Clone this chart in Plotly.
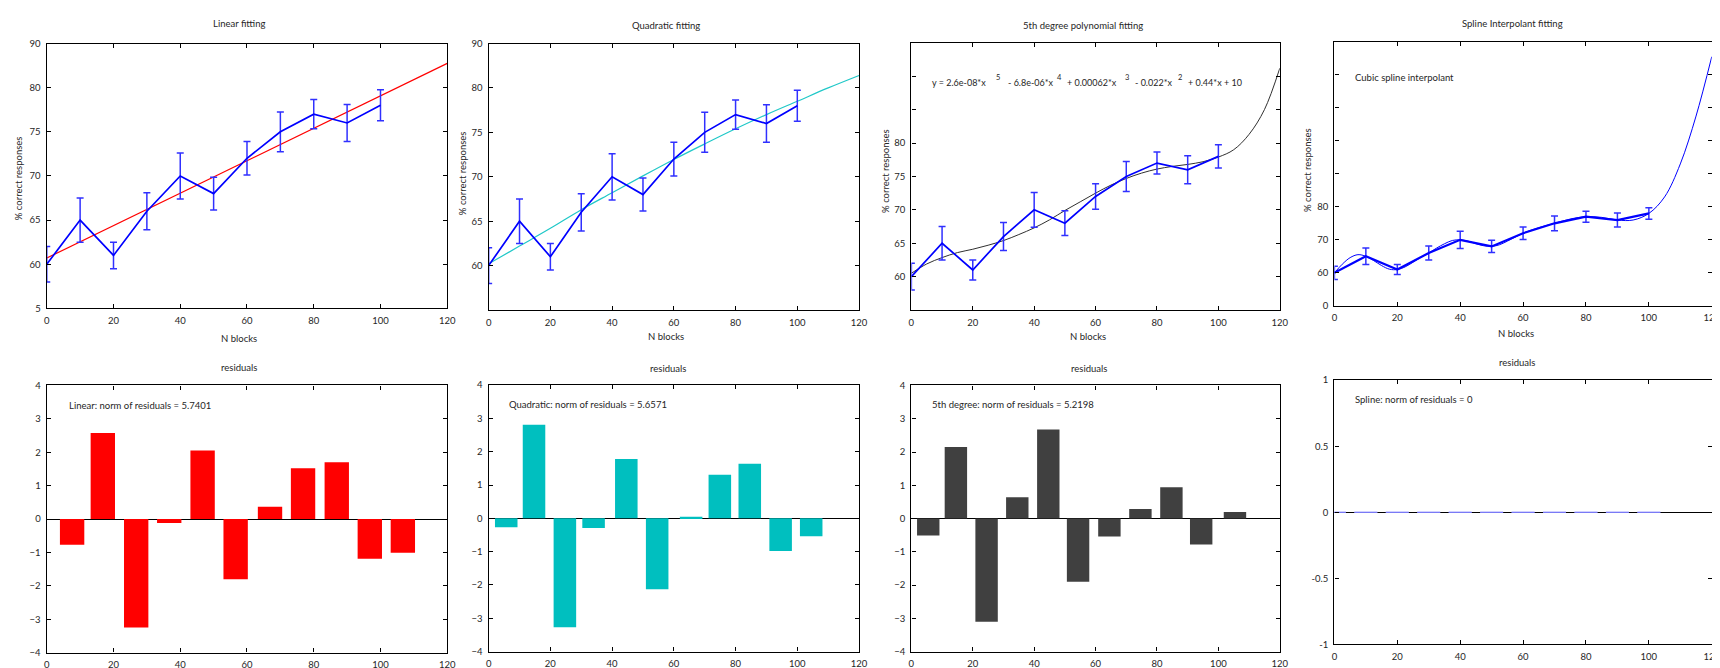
import plotly.graph_objects as go

W, H = 1720, 668

# ---------------- data ----------------
n_blocks = [0, 10, 20, 30, 40, 50, 60, 70, 80, 90, 100]
pct_correct = [60, 65, 61, 66, 70, 68, 72, 75, 77, 76, 78]
pct_err = [2.0, 2.5, 1.5, 2.1, 2.6, 1.85, 1.9, 2.25, 1.65, 2.1, 1.75]

lin_fit_x = [0, 120]
lin_fit_y = [60.7, 82.75]

quad_fit_x = [0, 10, 20, 30, 40, 50, 60, 70, 80, 90, 100, 110, 120]
quad_fit_y = [60.2, 62.2, 64.2, 66.3, 68.2, 70.1, 71.95, 73.7, 75.4, 77.0, 78.5, 80.0, 81.4]

poly5_fit_x = [0, 5, 10, 15, 20, 25, 30, 35, 40, 45, 50, 55, 60, 65, 70, 75, 80, 85,
               90, 95, 100, 105, 110, 115, 120]
poly5_fit_y = [60.5, 61.9, 62.85, 63.6, 64.1, 64.7, 65.4, 66.3, 67.3, 68.5, 69.9, 71.2,
               72.5, 73.7, 74.7, 75.5, 76.1, 76.5, 76.8, 77.2, 77.9, 79.0, 81.3, 85.0, 91.2]

spline_fit_x = [0, 2.5, 5, 7.5, 10, 12.5, 15, 17.5, 20, 22.5, 25, 27.5, 30, 32.5, 35, 37.5,
                40, 42.5, 45, 47.5, 50, 52.5, 55, 57.5, 60, 65, 70, 75, 80, 85, 90, 95,
                100, 105, 110, 115, 120]
spline_fit_y = [60, 62.6, 64.6, 65.5, 65, 63.7, 62.2, 61.1, 61, 61.8, 63.2, 64.7, 66, 67.5,
                68.8, 69.8, 70, 69.6, 68.8, 68.2, 68, 68.5, 69.6, 70.8, 72, 73.7, 75, 76.3,
                77, 76.8, 76, 76.0, 78, 83, 93, 107.5, 125.5]

lin_resid_x = [7.6, 16.8, 26.8, 36.7, 46.7, 56.6, 66.9, 76.8, 86.9, 96.8, 106.7]
lin_resid = [-0.77, 2.58, -3.25, -0.12, 2.05, -1.80, 0.37, 1.52, 1.70, -1.19, -1.01]

quad_resid_x = [5.7, 14.7, 24.7, 34.0, 44.6, 54.6, 65.6, 74.9, 84.6, 94.6, 104.5]
quad_resid = [-0.27, 2.81, -3.27, -0.29, 1.78, -2.13, 0.05, 1.31, 1.64, -0.98, -0.54]

poly5_resid_x = [5.5, 14.5, 24.5, 34.5, 44.6, 54.3, 64.5, 74.6, 84.7, 94.4, 105.4]
poly5_resid = [-0.51, 2.15, -3.10, 0.64, 2.68, -1.90, -0.54, 0.29, 0.94, -0.78, 0.20]

spline_resid_x = [0, 10, 20, 30, 40, 50, 60, 70, 80, 90, 100]
spline_resid = [0, 0, 0, 0, 0, 0, 0, 0, 0, 0, 0]

x_ticks = [0, 20, 40, 60, 80, 100, 120]
lin_yticks = [55, 60, 65, 70, 75, 80, 85]
lin_yticktext = ["5", "60", "65", "70", "75", "80", "90"]
quad_yticktext = ["", "60", "65", "70", "75", "80", "90"]
poly5_yticks = [60, 65, 70, 75, 80, 85, 90]
poly5_yticktext = ["60", "65", "70", "75", "80", "", ""]
spline_yticks = [50, 60, 70, 80, 90, 100, 110, 120]
spline_yticktext = ["0", "60", "70", "80", "", "", "", ""]
resid_yticks = [-4, -3, -2, -1, 0, 1, 2, 3, 4]
spline_resid_yticks = [-1, -0.5, 0, 0.5, 1]
spline_resid_yticktext = ["-1", "-0.5", "0", "0.5", "1"]

# ---------------- styling ----------------
FONT = "Lato, 'Liberation Sans', sans-serif"
FS = 9.5
TXT = "#262626"
BLUE = "#0000FF"
RED = "#FF0000"
CYAN = "#00BFBF"
DARK = "#404040"


def fx(px):
    return px / W


def fy(py):
    return 1 - py / H


def base_axis():
    return dict(showline=True, linecolor="black", linewidth=1.4, mirror="ticks",
                ticks="inside", ticklen=4, tickwidth=1, tickcolor="black",
                showgrid=False, zeroline=False, ticklabelstandoff=3,
                ticklabeloverflow="allow",
                tickfont=dict(family=FONT, size=FS, color=TXT))


# panel pixel boxes: (left, right, top, bottom)
boxes = {
    1: (36, 439.3, 30, 299.3),
    2: (481, 854, 30, 301),
    3: (906.7, 1277.7, 29.3, 301),
    4: (1332.7, 1712.7, 28.3, 296.7),
    5: (36, 439.3, 377.7, 649.3),
    6: (481, 854, 377.3, 648.3),
    7: (906.7, 1277.7, 377.7, 648.3),
    8: (1332.7, 1712.7, 372.3, 641),
}

fig = go.Figure()
layout = dict(width=W, height=H, margin=dict(l=0, r=0, t=0, b=0),
              paper_bgcolor="white", plot_bgcolor="white", showlegend=False,
              font=dict(family=FONT, size=FS, color=TXT))

for i, (l, r, t, b) in boxes.items():
    xa = base_axis()
    xa.update(domain=[fx(l), fx(r)], anchor=f"y{i}", range=[0, 120], tickvals=x_ticks)
    ya = base_axis()
    ya.update(domain=[fy(b), fy(t)], anchor=f"x{i}")
    if i in (1, 2):
        ya.update(range=[55, 85], tickvals=lin_yticks,
                  ticktext=lin_yticktext if i == 1 else quad_yticktext)
    elif i == 3:
        ya.update(range=[55, 95], tickvals=poly5_yticks, ticktext=poly5_yticktext)
    elif i == 4:
        ya.update(range=[50, 130], tickvals=spline_yticks, ticktext=spline_yticktext)
    elif i in (5, 6, 7):
        ya.update(range=[-4, 4], tickvals=resid_yticks, zeroline=True,
                  zerolinecolor="black", zerolinewidth=1.2)
    else:
        ya.update(range=[-1, 1], tickvals=spline_resid_yticks,
                  ticktext=spline_resid_yticktext, zeroline=True,
                  zerolinecolor="black", zerolinewidth=1.2)
    layout["xaxis" if i == 1 else f"xaxis{i}"] = xa
    layout["yaxis" if i == 1 else f"yaxis{i}"] = ya


def ax(i):
    return ("x" if i == 1 else f"x{i}"), ("y" if i == 1 else f"y{i}")


def data_trace(i, width=1.7):
    xr, yr = ax(i)
    return go.Scatter(x=n_blocks, y=pct_correct, mode="lines", xaxis=xr, yaxis=yr,
                      line=dict(color=BLUE, width=width),
                      error_y=dict(type="data", array=pct_err, visible=True,
                                   color="#3030ff", thickness=1.5, width=3.5))


# top row fits
for i, (fxs, fys, col, w) in {
    1: (lin_fit_x, lin_fit_y, RED, 1.2),
    2: (quad_fit_x, quad_fit_y, "#20C8C8", 1.2),
    3: (poly5_fit_x, poly5_fit_y, "#303030", 1.0),
    4: (spline_fit_x, spline_fit_y, BLUE, 1.0),
}.items():
    xr, yr = ax(i)
    if i == 4:
        fig.add_trace(data_trace(i, width=2.2))
    fig.add_trace(go.Scatter(x=fxs, y=fys, mode="lines", xaxis=xr, yaxis=yr,
                             line=dict(color=col, width=w, shape="spline")))
    if i != 4:
        fig.add_trace(data_trace(i))

# residual bars
for i, (bx, by, col) in {
    5: (lin_resid_x, lin_resid, RED),
    6: (quad_resid_x, quad_resid, CYAN),
    7: (poly5_resid_x, poly5_resid, DARK),
    8: (spline_resid_x, spline_resid, "#8080ff"),
}.items():
    xr, yr = ax(i)
    fig.add_trace(go.Bar(x=bx, y=by, xaxis=xr, yaxis=yr, width=7.3,
                         marker=dict(color=col, line=dict(width=1 if i == 8 else 0, color=col))))

# ---------------- text ----------------
ann = []


def add_text(text, px, py, size=FS, xanchor="center", angle=0):
    ann.append(dict(text=text, x=fx(px), y=fy(py), xref="paper", yref="paper",
                    xanchor=xanchor, yanchor="middle", showarrow=False, textangle=angle,
                    font=dict(family=FONT, size=size, color=TXT)))


for t, px, py in [("Linear fitting", 230, 10), ("Quadratic fitting", 660, 12),
                  ("5th degree polynomial fitting", 1080, 12),
                  ("Spline Interpolant fitting", 1511.7, 10)]:
    add_text(t, px, py)
for px, py in [(230, 359), (661.7, 360), (1086, 360), (1516.7, 354)]:
    add_text("residuals", px, py)
for px, py in [(230, 330), (660, 328), (1085, 328), (1515.7, 325)]:
    add_text("N blocks", px, py)
for px, py in [(7, 167), (454, 162), (880.7, 160), (1305.7, 159)]:
    add_text("% correct responses", px, py, angle=-90)

add_text("Linear: norm of residuals = 5.7401", 56.7, 397.7, xanchor="left")
add_text("Quadratic: norm of residuals = 5.6571", 499.3, 396.7, xanchor="left")
add_text("5th degree: norm of residuals = 5.2198", 925, 396.7, xanchor="left")
add_text("Spline: norm of residuals = 0", 1351, 391.7, xanchor="left")
add_text("Cubic spline interpolant", 1351, 65, xanchor="left")

for t, px in [("y = 2.6e-08*x", 925), ("- 6.8e-06*x", 1002), ("+ 0.00062*x", 1061.7),
              ("- 0.022*x", 1130), ("+ 0.44*x + 10", 1183)]:
    add_text(t, px, 70, size=9, xanchor="left")
for t, px in [("5", 994.2), ("4", 1056), ("3", 1124.3), ("2", 1177.5)]:
    add_text(t, px, 65, size=7.5)

layout["annotations"] = ann
fig.update_layout(**layout)
fig.write_html("out.html")
